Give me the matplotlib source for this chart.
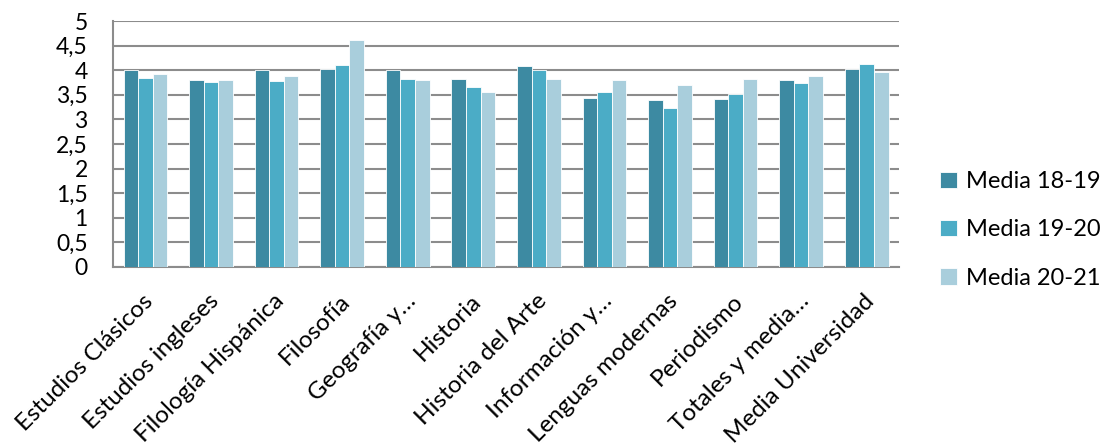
import numpy as np
import matplotlib
matplotlib.use('Agg')
import matplotlib.pyplot as plt
from matplotlib.ticker import FuncFormatter
from matplotlib.transforms import ScaledTranslation

plt.rcParams['font.family'] = ['Lato', 'DejaVu Sans']

categories = ['Estudios Clásicos', 'Estudios ingleses', 'Filología Hispánica', 'Filosofía',
              'Geografía y…', 'Historia', 'Historia del Arte', 'Información y…',
              'Lenguas modernas', 'Periodismo', 'Totales y media…', 'Media Universidad']
media_18_19 = [4.00, 3.80, 4.00, 4.02, 4.00, 3.83, 4.09, 3.43, 3.39, 3.42, 3.80, 4.02]
media_19_20 = [3.85, 3.75, 3.78, 4.10, 3.83, 3.66, 4.01, 3.56, 3.23, 3.52, 3.73, 4.13]
media_20_21 = [3.92, 3.80, 3.89, 4.62, 3.80, 3.56, 3.83, 3.80, 3.69, 3.83, 3.88, 3.96]
series_names = ['Media 18-19', 'Media 19-20', 'Media 20-21']
colors = ['#3d8aa2', '#4bacc6', '#a9cedc']

fig = plt.figure(figsize=(11.05, 4.47), dpi=100)
ax = fig.add_axes([0.102, 0.403, 0.712, 0.55])

x = np.arange(len(categories))
w = 0.222
for i, (vals, name, c) in enumerate(zip([media_18_19, media_19_20, media_20_21], series_names, colors)):
    ax.bar(x + (i - 1) * w, vals, width=w, color=c, edgecolor='white', linewidth=0.6,
           label=name, zorder=3)

ax.set_xlim(-0.5, len(categories) - 0.5)
ax.set_ylim(0, 5)
ax.set_yticks(np.arange(0, 5.01, 0.5))
ax.yaxis.set_major_formatter(FuncFormatter(lambda v, p: ('%g' % v).replace('.', ',')))
ax.grid(axis='y', color='#8c8c8c', linewidth=1.5, zorder=0)
ax.tick_params(axis='y', length=0, labelsize=16.5, pad=18, colors='black')
ax.tick_params(axis='x', length=0, labelsize=17.5, pad=17)
ax.set_xticks(x)
ax.set_xticklabels(categories, rotation=45, ha='right', rotation_mode='anchor')
shift = ScaledTranslation(-0.03, 0, fig.dpi_scale_trans)
for lbl in ax.get_xticklabels():
    lbl.set_transform(lbl.get_transform() + shift)
ax.spines['top'].set_visible(False)
ax.spines['right'].set_visible(False)
ax.spines['left'].set_color('#8c8c8c')
ax.spines['bottom'].set_color('#8c8c8c')
ax.spines['left'].set_linewidth(1.5)
ax.spines['bottom'].set_linewidth(1.5)

ax.legend(loc='center left', bbox_to_anchor=(1.025, 0.15), frameon=False, fontsize=17,
          handlelength=0.7, handleheight=0.7, handletextpad=0.4, labelspacing=1.15)

fig.savefig('out.png', dpi=100)
